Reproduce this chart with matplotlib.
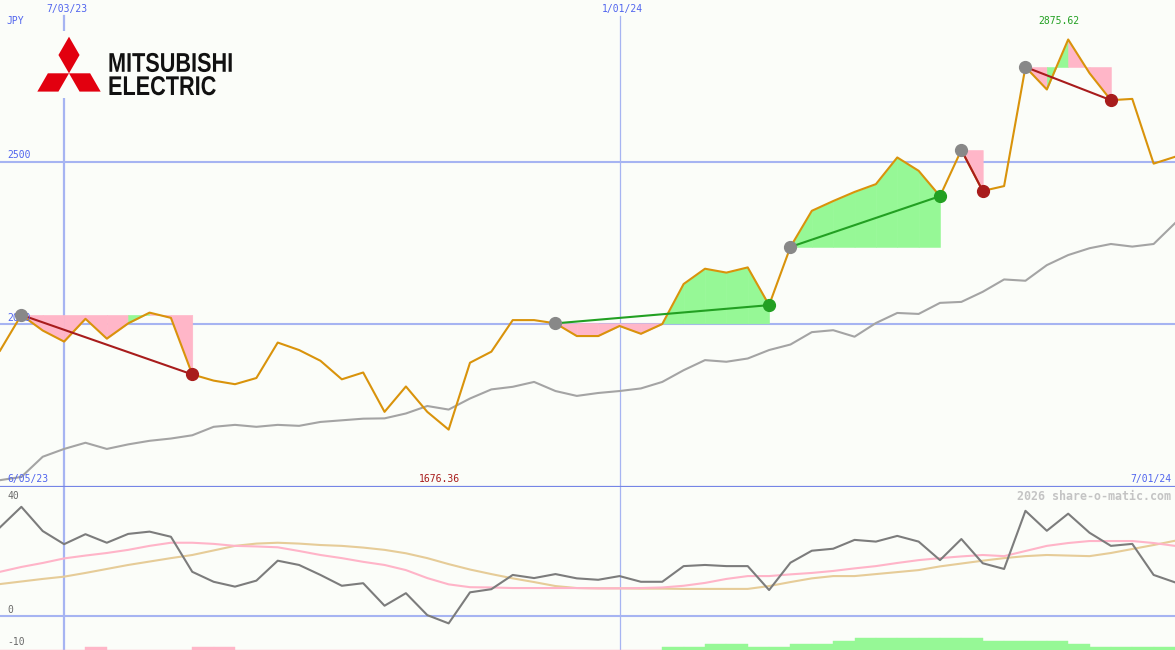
import matplotlib
matplotlib.use("Agg")

import matplotlib.pyplot as plt
import matplotlib.transforms as mtransforms
from matplotlib.patches import Polygon, Rectangle
from matplotlib.patheffects import AbstractPathEffect
import numpy as np
import pandas as pd

# weekly closes, JPY
dates = pd.date_range("2023-06-12", periods=56, freq="W-MON")

price = [1919, 2029, 1981, 1947, 2017, 1956, 2003, 2036, 2020, 1846,
         1827, 1816, 1835, 1944, 1921, 1888, 1831, 1852, 1731, 1809,
         1731, 1676.36, 1882, 1916, 2013, 2013, 2003, 1964, 1964, 1995,
         1971, 2001, 2124, 2171, 2159, 2175, 2059, 2238, 2349, 2379,
         2407, 2431, 2513, 2472, 2394, 2536, 2410, 2425, 2791, 2722,
         2875.62, 2772, 2689, 2693, 2494, 2515]

avg = [1521, 1531, 1593, 1617, 1636, 1617, 1631, 1642, 1649, 1659,
       1685, 1691, 1685, 1691, 1688, 1700, 1705, 1710, 1711, 1726,
       1749, 1738, 1772, 1800, 1808, 1823, 1795, 1780, 1789, 1795,
       1803, 1823, 1859, 1890, 1885, 1895, 1921, 1938, 1976, 1982,
       1962, 2004, 2035, 2032, 2066, 2069, 2100, 2138, 2134, 2182,
       2213, 2234, 2247, 2239, 2247, 2311]

# (start week, end week) of the trend boxes
trends = [(1, 9), (26, 36), (37, 44), (45, 46), (48, 52)]

osc = [31.0, 38.2, 29.7, 25.1, 28.6, 25.6, 28.7, 29.5, 27.7, 15.4,
       11.9, 10.2, 12.3, 19.3, 17.8, 14.3, 10.5, 11.4, 3.5, 7.9,
       0.2, -2.7, 8.2, 9.3, 14.3, 13.2, 14.6, 13.1, 12.6, 13.9,
       11.9, 11.9, 17.4, 17.8, 17.4, 17.4, 9.0, 18.6, 22.8, 23.5,
       26.6, 26.0, 28.0, 26.0, 19.5, 26.9, 18.4, 16.4, 36.8, 29.8,
       35.8, 29.1, 24.5, 25.2, 14.3, 11.7]

osc_fast = [15.4, 17.1, 18.5, 20.1, 21.1, 22.0, 23.1, 24.5, 25.6, 25.6,
            25.2, 24.5, 24.3, 24.0, 22.7, 21.3, 20.2, 18.9, 17.8, 16.0,
            13.2, 11.0, 10.0, 9.9, 9.7, 9.7, 9.7, 9.7, 9.6, 9.6,
            9.7, 9.9, 10.5, 11.5, 12.9, 13.9, 13.9, 14.5, 15.0, 15.7,
            16.6, 17.4, 18.5, 19.5, 20.2, 20.8, 21.3, 20.9, 22.7, 24.5,
            25.5, 26.2, 26.2, 26.2, 25.5, 24.5]

osc_slow = [11.1, 12.0, 12.9, 13.7, 15.0, 16.4, 17.8, 19.0, 20.2, 21.3,
            22.9, 24.5, 25.3, 25.6, 25.3, 24.8, 24.5, 23.9, 23.1, 21.9,
            20.2, 18.1, 16.2, 14.6, 13.1, 11.8, 10.4, 9.7, 9.6, 9.6,
            9.5, 9.5, 9.4, 9.4, 9.4, 9.4, 10.4, 11.8, 13.1, 13.9,
            13.9, 14.6, 15.3, 16.0, 17.3, 18.3, 19.3, 20.2, 20.9, 21.3,
            21.1, 20.9, 22.0, 23.4, 24.8, 26.3]

# strength bars per week (negative = pink)
bars = [0, 0, 0, 0, -1, 0, 0, 0, 0, -1,
        -1, 0, 0, 0, 0, 0, 0, 0, 0, 0,
        0, 0, 0, 0, 0, 0, 0, 0, 0, 0,
        0, 1, 1, 2, 2, 1, 1, 2, 2, 3,
        4, 4, 4, 4, 4, 4, 3, 3, 3, 3,
        2, 1, 1, 1, 1]

marks = ["2023-07-03", "2024-01-01"]
mark_labels = ["7/03/23", "1/01/24"]
osc_ticks = [40, 0, -10]

bg = "#fbfdf9"
grid = "#a6b4f2"
blue = "#5064ee"
pink = "#ffb6c8"
green = "#96f896"
red_dk = "#a81c1c"
green_dk = "#22a022"
mono = "DejaVu Sans Mono"


class Squeeze(AbstractPathEffect):
    # narrow the glyphs horizontally around x0 (display px)
    def __init__(self, sx, x0):
        super().__init__()
        self.sx = sx
        self.x0 = x0

    def draw_path(self, renderer, gc, tpath, affine, rgbFace=None):
        t = affine + mtransforms.Affine2D().translate(-self.x0, 0).scale(self.sx, 1).translate(self.x0, 0)
        renderer.draw_path(gc, tpath, t, rgbFace)


W, H = 1175, 650
fig = plt.figure(figsize=(W / 100, H / 100), dpi=100)
fig.patch.set_facecolor(bg)

ax = fig.add_axes([0, 163 / H, 1, 487 / H])
ax2 = fig.add_axes([0, 0, 1, 163 / H])
for a in (ax, ax2):
    a.set_facecolor(bg)
    a.set_xticks([])
    a.set_yticks([])
    for s in a.spines.values():
        s.set_visible(False)
    a.set_xlim(dates[0], dates[-1])
ax.spines["bottom"].set_visible(True)
ax.spines["bottom"].set_color("#7585e6")
ax.spines["bottom"].set_linewidth(1.6)
ax.set_ylim(1500, 2997)
ax2.set_ylim(-12.04, 45.16)

# grid
for y in (2000, 2500):
    ax.axhline(y, color=grid, lw=1.5, zorder=1)
ax2.axhline(0, color=grid, lw=1.5, zorder=1)
for d, lw in zip(marks, (1.6, 0.9)):
    ax.axvline(pd.Timestamp(d), ymax=0.967, color=grid, lw=lw, zorder=1)
    ax2.axvline(pd.Timestamp(d), color=grid, lw=lw, zorder=1)

# trend boxes
for s, e in trends:
    level = price[s]
    for j in range(s, e):
        c = green if price[j + 1] > level else pink
        ax.fill_between(dates[j:j + 2], price[j:j + 2], level,
                        facecolor=c, edgecolor=c, lw=0.4, zorder=2)

ax.plot(dates, avg, color="#a4a4a4", lw=1.5, zorder=3)
ax.plot(dates, price, color="#d9930b", lw=1.5, zorder=4)

for s, e in trends:
    c = red_dk if price[e] < price[s] else green_dk
    ax.plot([dates[s], dates[e]], [price[s], price[e]], color=c, lw=1.5, zorder=5)
    ax.plot(dates[s], price[s], "o", color="#888888", ms=8.5, zorder=6)
    ax.plot(dates[e], price[e], "o", color=c, ms=8.5, zorder=6)

# labels top panel
yt = mtransforms.blended_transform_factory(ax.transAxes, ax.transData)
ax.text(0.006, 2500 + 5, "2500", transform=yt, color=blue, fontsize=7,
        family=mono, va="bottom", zorder=5)
ax.text(0.006, 2000 + 5, "2000", transform=yt, color=blue, fontsize=7,
        family=mono, va="bottom", zorder=5)
imax = int(np.argmax(price))
imin = int(np.argmin(price))
fig.text(6 / W, 1 - 21 / H, "JPY", color=blue, fontsize=7, family=mono,
         va="center")
for d, t in zip(marks, mark_labels):
    ax.annotate(t, (pd.Timestamp(d), 1), xycoords=("data", "axes fraction"),
                xytext=(3, -9), textcoords="offset pixels", ha="center",
                va="center", color=blue, fontsize=7, family=mono)
ax.annotate(f"{price[imax]:.2f}", (dates[imax], 1),
            xycoords=("data", "axes fraction"), xytext=(-9, -21),
            textcoords="offset pixels", ha="center", va="center",
            color=green_dk, fontsize=7, family=mono)
ax.annotate(f"{price[imin]:.2f}", (dates[imin], 0),
            xycoords=("data", "axes fraction"), xytext=(-9, 8),
            textcoords="offset pixels", ha="center", va="center",
            color=red_dk, fontsize=7, family=mono)
ax.text(0.006, 8 / 487, "6/05/23", transform=ax.transAxes, color=blue,
        fontsize=7, family=mono, va="center")
ax.text(0.997, 8 / 487, "7/01/24", transform=ax.transAxes, color=blue,
        fontsize=7, family=mono, va="center", ha="right")

# bottom panel
ax2.plot(dates, osc_slow, color="#e6cc98", lw=1.5, zorder=2)
ax2.plot(dates, osc_fast, color="#ffb4c8", lw=1.5, zorder=2)
ax2.plot(dates, osc, color="#7c7c7c", lw=1.5, zorder=3)
bcol = [green if b > 0 else pink for b in bars]
ax2.bar(dates[:-1], [abs(b) * 1.07 for b in bars], width=7, align="edge",
        bottom=-12.2, color=bcol, edgecolor=bcol, lw=0.3, zorder=2)

for v, off in zip(osc_ticks, (5.5, 5.7, 2.2)):
    ax2.annotate(str(v), (0.006, v), xycoords=("axes fraction", "data"),
                 xytext=(0, off), textcoords="offset pixels", color="#6a6a6a",
                 fontsize=7, family=mono, va="center")
ax2.annotate("2026 share-o-matic.com", (0.997, 1), xycoords="axes fraction",
             xytext=(0, -9), textcoords="offset pixels", color="#c4c4c4",
             fontsize=8.4, family=mono, fontweight="bold", ha="right",
             va="center")

# logo
lg = fig.add_axes([0, 0, 1, 1], zorder=10)
lg.set_xlim(0, W)
lg.set_ylim(H, 0)
lg.axis("off")
lg.patch.set_alpha(0)
lg.add_patch(Rectangle((28, 31), 215, 67, color=bg, lw=0))
cx, cy, L = 69, 73.3, 36.6
hw = L / 2 * np.tan(np.radians(30))
for dx, dy in [(0, -1), (-np.cos(np.radians(30)), 0.5), (np.cos(np.radians(30)), 0.5)]:
    tip = (cx + L * dx, cy + L * dy)
    mx, my = cx + L / 2 * dx, cy + L / 2 * dy
    px, py = -dy, dx
    pts = [(cx, cy), (mx + hw * px, my + hw * py), tip, (mx - hw * px, my - hw * py)]
    lg.add_patch(Polygon(pts, closed=True, color="#e2000f", lw=0))
lg.text(108, 95, "MITSUBISHI\nELECTRIC", fontsize=19.5, fontweight="bold",
        family=["Liberation Sans", "DejaVu Sans"], va="baseline", ha="left",
        linespacing=0.86, color="#111111",
        path_effects=[Squeeze(0.8, 108)])

fig.savefig("out.png", dpi=100, facecolor=bg)
